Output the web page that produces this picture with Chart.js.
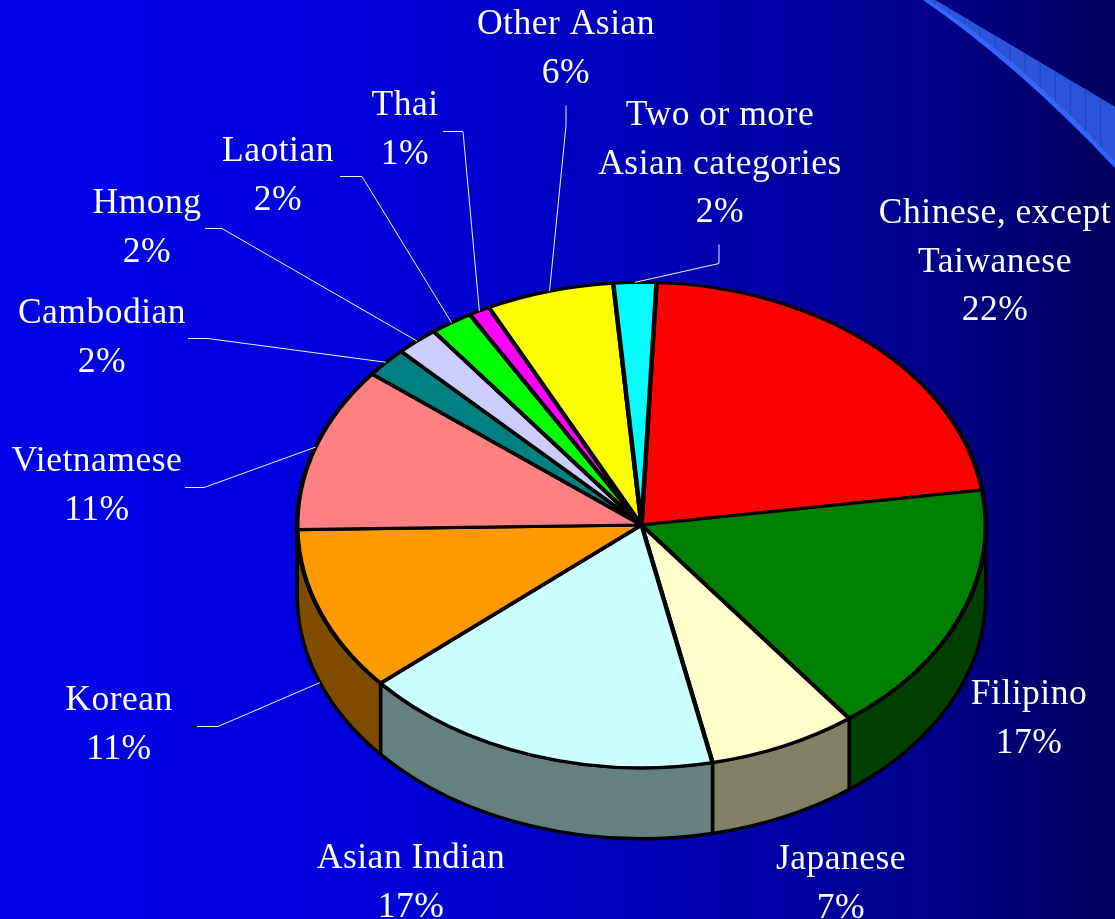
<!DOCTYPE html>
<html>
<head>
<meta charset="utf-8">
<title>Asian population by group</title>
<script src="https://cdn.jsdelivr.net/npm/chart.js@4"></script>
<style>
  html, body { margin: 0; padding: 0; background: #0000c0; overflow: hidden; }
  canvas { display: block; }
</style>
</head>
<body>
<canvas id="pie-chart" width="1115" height="919"></canvas>
<script>
const categories = [
  'Chinese, except Taiwanese', 'Filipino', 'Japanese', 'Asian Indian', 'Korean', 'Vietnamese',
  'Cambodian', 'Hmong', 'Laotian', 'Thai', 'Other Asian', 'Two or more Asian categories',
];
const percents = [22, 17, 7, 17, 11, 11, 2, 2, 2, 1, 6, 2];
const sliceColors = [
  '#ff0000', '#008000', '#ffffcc', '#ccffff', '#ff9900', '#ff8080',
  '#008080', '#ccccff', '#00ff00', '#ff00ff', '#ffff00', '#00ffff',
];

// wrapped label text, same order as categories
const labelLines = [
  ['Chinese, except', 'Taiwanese'], ['Filipino'], ['Japanese'], ['Asian Indian'], ['Korean'], ['Vietnamese'],
  ['Cambodian'], ['Hmong'], ['Laotian'], ['Thai'], ['Other Asian'], ['Two or more', 'Asian categories'],
];
// label centre x and first baseline
const labelAnchors = [
  [995, 223], [1029, 704], [841, 869], [411, 868], [119, 710], [97, 471],
  [102, 323], [147, 213], [278, 161], [405, 115], [566, 34], [720, 125],
];
// leader elbows, from the label side towards the slice
const leaderElbows = [
  null, null, null, null,
  [[197, 726], [218, 726]],
  [[185, 487], [204, 487]],
  [[188, 338], [208, 338]],
  [[205, 228], [222, 228]],
  [[340, 176], [362, 176]],
  [[443, 131], [463, 131]],
  [[566, 105], [566, 125]],
  [[719, 244], [719, 263]],
];

const TILT = 0.705;
const WALL_DEPTH = 71;
const LINE_HEIGHT = 48.5;

function darken(hex) {
  const n = parseInt(hex.slice(1), 16);
  return `rgb(${(n >> 16) * 0.5}, ${((n >> 8) & 255) * 0.5}, ${(n & 255) * 0.5})`;
}

// navy gradient and the ribbon in the top right corner
const backdropPlugin = {
  id: 'backdrop',
  beforeDraw(chart) {
    const { ctx, width, height } = chart;
    ctx.save();
    const bg = ctx.createLinearGradient(0, 0, width, 0);
    bg.addColorStop(0, 'rgb(0, 0, 232)');
    bg.addColorStop(0.3, 'rgb(0, 0, 222)');
    bg.addColorStop(0.6, 'rgb(0, 0, 182)');
    bg.addColorStop(0.85, 'rgb(0, 0, 135)');
    bg.addColorStop(1, 'rgb(0, 0, 92)');
    ctx.fillStyle = bg;
    ctx.fillRect(0, 0, width, height);

    // bright lower strip
    ctx.beginPath();
    ctx.moveTo(923, 0);
    ctx.quadraticCurveTo(1019, 66, 1115, 168);
    ctx.lineTo(1115, 107);
    ctx.lineTo(935, 0);
    ctx.closePath();
    ctx.fillStyle = '#3366ff';
    ctx.fill();

    // ribbon face with its panel seams
    ctx.beginPath();
    ctx.moveTo(929, 0);
    ctx.quadraticCurveTo(1023, 62, 1115, 162);
    ctx.lineTo(1115, 107);
    ctx.lineTo(935, 0);
    ctx.closePath();
    ctx.fillStyle = '#2b55d9';
    ctx.fill();
    ctx.clip();

    ctx.strokeStyle = 'rgba(20, 50, 170, 0.55)';
    ctx.lineWidth = 1;
    for (let x = 934; x < 1115; x += 15.1) {
      ctx.beginPath();
      ctx.moveTo(x + 0.5, 0);
      ctx.lineTo(x + 0.5, 170);
      ctx.stroke();
    }
    ctx.restore();
  },
};

// extruded rim under the front half, then squash the slices onto the tilted disc
const tiltPlugin = {
  id: 'tilt',
  beforeDatasetsDraw(chart) {
    const { ctx } = chart;
    const arcs = chart.getDatasetMeta(0).data;
    ctx.save();
    ctx.lineWidth = 3.5;
    ctx.lineJoin = 'round';
    ctx.strokeStyle = '#000';
    arcs.forEach((arc, i) => {
      const a0 = Math.max(arc.startAngle, 0);
      const a1 = Math.min(arc.endAngle, Math.PI);
      if (a1 <= a0) return;
      const r = arc.outerRadius;
      ctx.beginPath();
      ctx.ellipse(arc.x, arc.y, r, r * TILT, 0, a0, a1);
      ctx.ellipse(arc.x, arc.y + WALL_DEPTH, r, r * TILT, 0, a1, a0, true);
      ctx.closePath();
      ctx.fillStyle = darken(sliceColors[i]);
      ctx.fill();
      ctx.stroke();
    });
    ctx.restore();

    const cy = arcs[0].y;
    ctx.save();
    ctx.translate(0, cy);
    ctx.scale(1, TILT);
    ctx.translate(0, -cy);
  },
  afterDatasetsDraw(chart) {
    chart.ctx.restore();
  },
};

const labelPlugin = {
  id: 'sliceLabels',
  afterDraw(chart) {
    const { ctx } = chart;
    const arcs = chart.getDatasetMeta(0).data;
    ctx.save();
    ctx.fillStyle = '#fff';
    ctx.strokeStyle = 'rgba(255, 255, 255, 0.95)';
    ctx.lineWidth = 1;
    ctx.font = '35.5px "Liberation Serif", "Times New Roman", serif';
    ctx.letterSpacing = '0.5px';
    ctx.textAlign = 'center';

    categories.forEach((name, i) => {
      const [x, y] = labelAnchors[i];
      const lines = [...labelLines[i], percents[i] + '%'];
      lines.forEach((line, k) => ctx.fillText(line, x, y + k * LINE_HEIGHT));

      const elbows = leaderElbows[i];
      if (!elbows) return;
      const arc = arcs[i];
      const mid = (arc.startAngle + arc.endAngle) / 2;
      const tipX = arc.x + arc.outerRadius * Math.cos(mid);
      let tipY = arc.y + arc.outerRadius * TILT * Math.sin(mid);
      if (Math.sin(mid) > 0) tipY += WALL_DEPTH;
      ctx.beginPath();
      ctx.moveTo(elbows[0][0], elbows[0][1] + 0.5);
      ctx.lineTo(elbows[1][0], elbows[1][1] + 0.5);
      ctx.lineTo(tipX, tipY);
      ctx.stroke();
    });
    ctx.restore();
  },
};

new Chart(document.getElementById('pie-chart').getContext('2d'), {
  type: 'pie',
  data: {
    labels: categories,
    datasets: [{
      data: percents,
      backgroundColor: sliceColors,
      borderColor: '#000',
      borderWidth: 4.5,
      clip: false,
    }],
  },
  options: {
    responsive: false,
    animation: false,
    rotation: 2.5,
    layout: { padding: { left: 295, right: 127, top: 178, bottom: 47 } },
    plugins: {
      legend: { display: false },
      tooltip: { enabled: false },
    },
  },
  plugins: [backdropPlugin, tiltPlugin, labelPlugin],
});
</script>
</body>
</html>
